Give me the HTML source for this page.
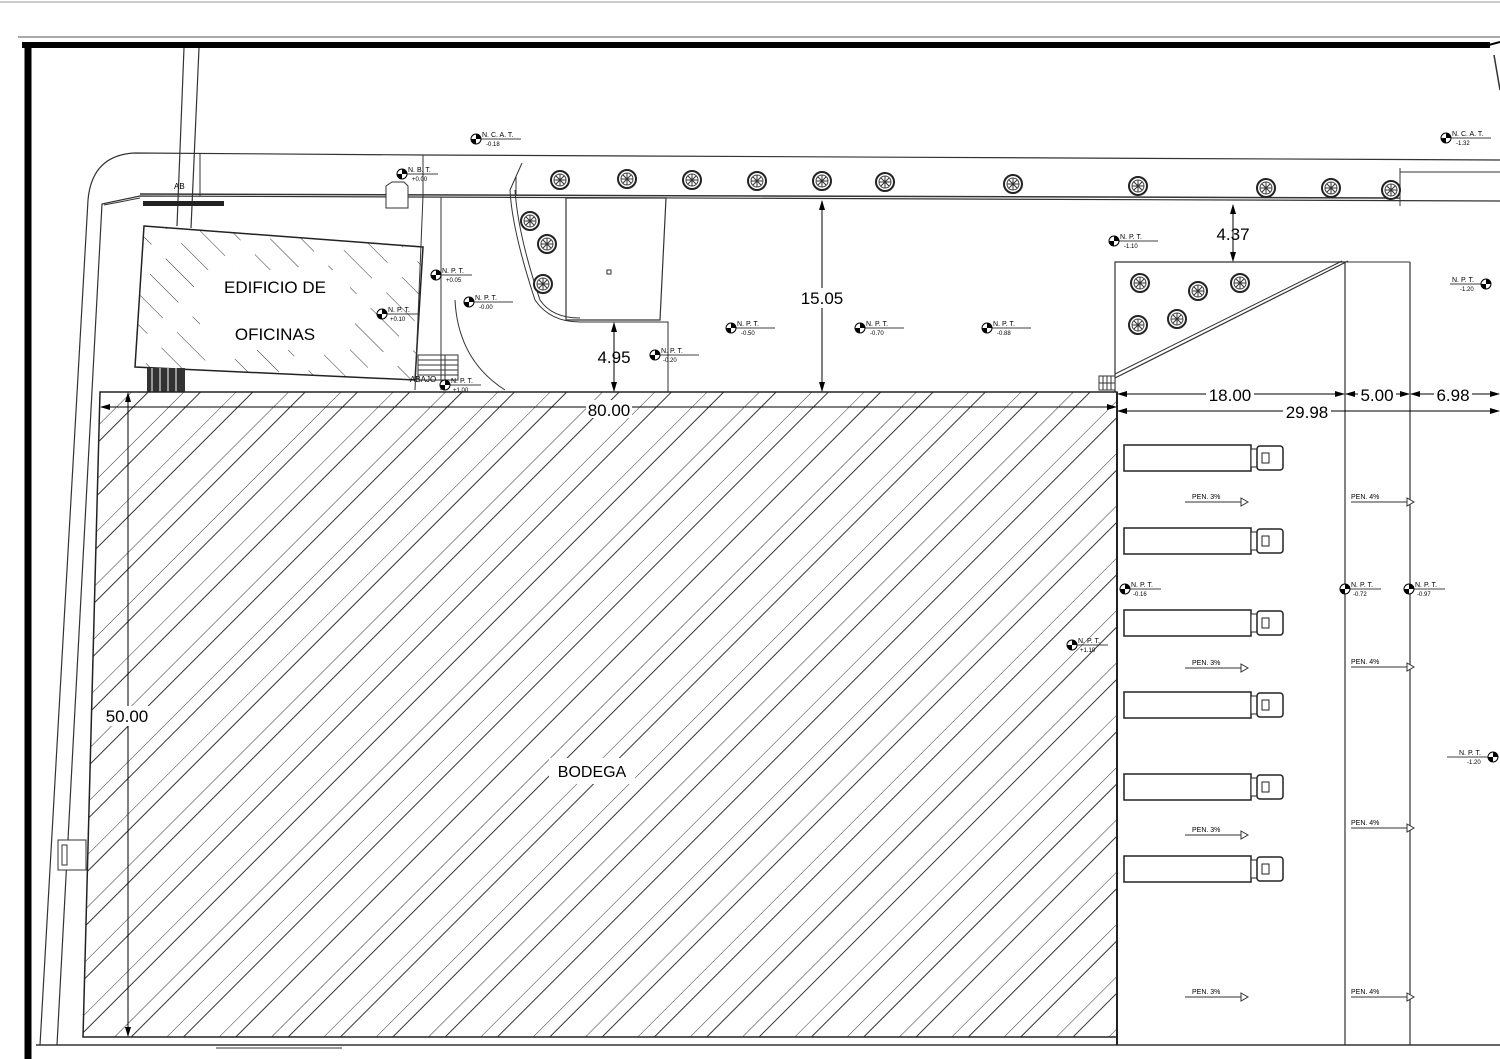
<!DOCTYPE html>
<html><head><meta charset="utf-8"><style>
html,body{margin:0;padding:0;background:#fff;}
svg{display:block;font-family:"Liberation Sans",sans-serif;}
</style></head><body>
<svg width="1500" height="1059" viewBox="0 0 1500 1059" xmlns="http://www.w3.org/2000/svg">
<defs>
<pattern id="hb" patternUnits="userSpaceOnUse" width="37" height="37" patternTransform="rotate(45)">
<line x1="0" y1="0" x2="0" y2="37" stroke="#333" stroke-width="1"/>
<line x1="12" y1="0" x2="12" y2="37" stroke="#333" stroke-width="1"/>
</pattern>
<pattern id="ho" patternUnits="userSpaceOnUse" width="22" height="60" patternTransform="rotate(-45)">
<line x1="0" y1="0" x2="0" y2="40" stroke="#333" stroke-width="1"/>
</pattern>
<g id="tree"><circle r="9" fill="#fff" stroke="#222" stroke-width="2"/><circle r="6" fill="none" stroke="#444" stroke-width="1"/>
<path d="M-6 0H6M0 -6V6M-4 -4L4 4M-4 4L4 -4" stroke="#333" stroke-width="1"/></g>
<g id="mk"><circle r="5" fill="#fff" stroke="#000" stroke-width="1"/><path d="M0 0V-5A5 5 0 0 1 5 0Z M0 0V5A5 5 0 0 1 -5 0Z" fill="#000"/></g>
<g id="trk"><rect x="0" y="-13" width="127" height="26" fill="#fff" stroke="#222" stroke-width="1.5"/><rect x="127" y="-9" width="6" height="18" fill="#fff" stroke="#222"/><rect x="133" y="-12" width="26" height="24" rx="3" fill="#fff" stroke="#222" stroke-width="1.5"/><rect x="138" y="-5" width="7" height="10" fill="none" stroke="#222"/></g>
<g id="pen"><line x1="0" y1="0" x2="56" y2="0" stroke="#333"/><path d="M56 -4L63 0L56 4Z" fill="#fff" stroke="#333"/></g>
<marker id="ar" markerWidth="10" markerHeight="6" refX="9" refY="3" orient="auto-start-reverse" markerUnits="userSpaceOnUse"><path d="M0 0L10 3L0 6Z" fill="#000"/></marker>
</defs>

<!-- frame -->
<line x1="18" y1="37" x2="1500" y2="37" stroke="#aaa" stroke-width="2"/>
<line x1="0" y1="2" x2="1500" y2="2" stroke="#ccc" stroke-width="2"/>
<line x1="22" y1="45" x2="1490" y2="45" stroke="#000" stroke-width="6"/>
<line x1="28" y1="42" x2="28" y2="1059" stroke="#000" stroke-width="7"/>
<line x1="1485" y1="46" x2="1500" y2="42" stroke="#000" stroke-width="2"/>
<line x1="1494" y1="55" x2="1500" y2="90" stroke="#333" stroke-width="1.5"/>
<line x1="36" y1="1045" x2="1500" y2="1045" stroke="#333" stroke-width="1.5"/>
<line x1="216" y1="1048" x2="342" y2="1048" stroke="#999" stroke-width="2"/>

<!-- property outlines -->
<path d="M40 1045 L88 200 Q92 155 135 153 L423 155 L1500 160" fill="none" stroke="#333" stroke-width="1.2"/>
<path d="M57 1045 L102 204 L140 196 L1500 201" fill="none" stroke="#333" stroke-width="1.2"/>
<path d="M104 205 L140 198" fill="none" stroke="#333" stroke-width="1"/>
<line x1="140" y1="194" x2="1400" y2="198" stroke="#333" stroke-width="1.5"/>
<line x1="1400" y1="168" x2="1400" y2="206" stroke="#333"/>
<line x1="1400" y1="172" x2="1500" y2="172" stroke="#333"/>
<line x1="200" y1="153" x2="200" y2="196" stroke="#333"/>
<line x1="423" y1="155" x2="423" y2="196" stroke="#333"/>
<!-- vertical lines at top -->
<line x1="184" y1="48" x2="177" y2="226" stroke="#333" stroke-width="1.2"/>
<line x1="199" y1="48" x2="191" y2="228" stroke="#333" stroke-width="1.2"/>
<text x="174" y="189" font-size="8">AB</text>
<rect x="143" y="201" width="81" height="5" fill="#222"/>
<path d="M386 198 V186 L392 182 H404 L408 186 V208 H386Z" fill="#fff" stroke="#333"/>

<!-- office -->
<polygon points="144,226 423,247 415,380 135,367" fill="url(#ho)" stroke="#222" stroke-width="1.5"/>
<rect x="200" y="270" width="150" height="80" fill="#fff"/>
<text x="275" y="293" font-size="17" text-anchor="middle">EDIFICIO DE</text>
<text x="275" y="340" font-size="17" text-anchor="middle">OFICINAS</text>
<rect x="147" y="368" width="38" height="24" fill="#333"/>
<g stroke="#fff" stroke-width="1"><line x1="152" y1="368" x2="152" y2="392"/><line x1="160" y1="368" x2="160" y2="392"/><line x1="168" y1="368" x2="168" y2="392"/><line x1="176" y1="368" x2="176" y2="392"/></g>
<!-- stairs -->
<g stroke="#333"><rect x="418" y="355" width="40" height="25" fill="#fff"/>
<line x1="418" y1="360" x2="458" y2="360"/><line x1="418" y1="365" x2="458" y2="365"/><line x1="418" y1="370" x2="458" y2="370"/><line x1="418" y1="375" x2="458" y2="375"/><line x1="445" y1="355" x2="445" y2="380"/></g>
<text x="410" y="382" font-size="8">ABAJO</text>

<!-- path/planting -->
<line x1="423" y1="196" x2="415" y2="390" stroke="#333"/>
<line x1="441" y1="197" x2="441" y2="390" stroke="#333"/>
<path d="M455 300 Q458 360 505 390" fill="none" stroke="#333"/>
<path d="M522 163 L510 190 Q512 230 535 300 Q550 322 580 322 L668 322 L668 392" fill="none" stroke="#333"/>
<path d="M515 190 Q518 235 540 300 Q552 318 580 318" fill="none" stroke="#333"/>
<line x1="516" y1="176" x2="516" y2="196" stroke="#333"/>
<polygon points="566,198 666,198 660,320 566,320" fill="none" stroke="#333" stroke-width="1.2"/>
<rect x="607" y="270" width="4" height="4" fill="none" stroke="#333"/>

<!-- trees -->
<use href="#tree" x="560" y="180"/><use href="#tree" x="627" y="179"/><use href="#tree" x="692" y="180"/><use href="#tree" x="757" y="181"/><use href="#tree" x="822" y="181"/><use href="#tree" x="885" y="182"/><use href="#tree" x="1013" y="184"/><use href="#tree" x="1138" y="186"/><use href="#tree" x="1266" y="188"/><use href="#tree" x="1331" y="188"/><use href="#tree" x="1391" y="190"/>
<use href="#tree" x="530" y="221"/><use href="#tree" x="547" y="244"/><use href="#tree" x="543" y="284"/>
<use href="#tree" x="1140" y="283"/><use href="#tree" x="1198" y="291"/><use href="#tree" x="1240" y="283"/><use href="#tree" x="1138" y="325"/><use href="#tree" x="1177" y="319"/>

<!-- right zone -->
<path d="M1115 392 V262 H1345 V1045" fill="none" stroke="#333" stroke-width="1.2"/>
<line x1="1410" y1="262" x2="1410" y2="1045" stroke="#333" stroke-width="1.2"/>
<line x1="1345" y1="262" x2="1410" y2="262" stroke="#333"/>
<line x1="1348" y1="261" x2="1115" y2="378" stroke="#333" stroke-width="1.2"/>
<line x1="1342" y1="261" x2="1115" y2="374" stroke="#333" stroke-width="1"/>
<rect x="1099" y="376" width="16" height="14" fill="#fff" stroke="#333"/>
<path d="M1103 376V390M1107 376V390M1111 376V390M1099 383H1115" stroke="#333"/>

<!-- bodega -->
<polygon points="100,392 1117,392 1117,1037 83,1037" fill="url(#hb)" stroke="#222" stroke-width="1.5"/>
<line x1="1117" y1="392" x2="1117" y2="1045" stroke="#222" stroke-width="2"/>
<rect x="549" y="758" width="86" height="26" fill="#fff"/>
<text x="592" y="777" font-size="16" text-anchor="middle">BODEGA</text>
<rect x="58" y="840" width="28" height="30" fill="#fff" stroke="#333"/>
<rect x="62" y="845" width="5" height="20" fill="none" stroke="#333"/>

<!-- dimensions -->
<g stroke="#000" stroke-width="1" fill="none">
<line x1="101" y1="407" x2="1116" y2="407" marker-start="url(#ar)" marker-end="url(#ar)"/>
<line x1="128" y1="393" x2="128" y2="1036" marker-start="url(#ar)" marker-end="url(#ar)"/>
<line x1="822" y1="201" x2="822" y2="391" marker-start="url(#ar)" marker-end="url(#ar)"/>
<line x1="614" y1="323" x2="614" y2="391" marker-start="url(#ar)" marker-end="url(#ar)"/>
<line x1="1233" y1="205" x2="1233" y2="261" marker-start="url(#ar)" marker-end="url(#ar)"/>
<line x1="1118" y1="394" x2="1344" y2="394" marker-start="url(#ar)" marker-end="url(#ar)"/>
<line x1="1346" y1="394" x2="1409" y2="394" marker-start="url(#ar)" marker-end="url(#ar)"/>
<line x1="1411" y1="394" x2="1499" y2="394" marker-start="url(#ar)" marker-end="url(#ar)"/>
<line x1="1118" y1="411" x2="1499" y2="411" marker-start="url(#ar)" marker-end="url(#ar)"/>
</g>
<g font-size="17" text-anchor="middle">
<rect x="586" y="400" width="46" height="18" fill="#fff"/><text x="609" y="416">80.00</text>
<rect x="105" y="706" width="46" height="20" fill="#fff"/><text x="127" y="722">50.00</text>
<rect x="799" y="288" width="46" height="20" fill="#fff"/><text x="822" y="304">15.05</text>
<text x="614" y="363">4.95</text>
<text x="1233" y="240">4.37</text>
<rect x="1206" y="386" width="48" height="16" fill="#fff"/><text x="1230" y="401">18.00</text>
<rect x="1358" y="386" width="38" height="16" fill="#fff"/><text x="1377" y="401">5.00</text>
<rect x="1434" y="386" width="38" height="16" fill="#fff"/><text x="1453" y="401">6.98</text>
<rect x="1283" y="403" width="48" height="16" fill="#fff"/><text x="1307" y="418">29.98</text>
</g>

<!-- trucks -->
<use href="#trk" x="1124" y="458"/><use href="#trk" x="1124" y="541"/><use href="#trk" x="1124" y="623"/><use href="#trk" x="1124" y="705"/><use href="#trk" x="1124" y="787"/><use href="#trk" x="1124" y="869"/>
<g font-size="7">
<use href="#pen" x="1185" y="502"/><text x="1192" y="499">PEN. 3%</text>
<use href="#pen" x="1185" y="668"/><text x="1192" y="665">PEN. 3%</text>
<use href="#pen" x="1185" y="835"/><text x="1192" y="832">PEN. 3%</text>
<use href="#pen" x="1185" y="997"/><text x="1192" y="994">PEN. 3%</text>
<use href="#pen" x="1351" y="502"/><text x="1351" y="499">PEN. 4%</text>
<use href="#pen" x="1351" y="667"/><text x="1351" y="664">PEN. 4%</text>
<use href="#pen" x="1351" y="828"/><text x="1351" y="825">PEN. 4%</text>
<use href="#pen" x="1351" y="997"/><text x="1351" y="994">PEN. 4%</text>
</g>

<!-- level markers -->
<g font-size="7" fill="#000">
<g transform="translate(476,139)"><use href="#mk"/><text x="6" y="-2">N. C. A. T.</text><line x1="5" y1="0" x2="45" y2="0" stroke="#000" stroke-width=".7"/><text x="10" y="7" font-size="6">-0.18</text></g>
<g transform="translate(402,174)"><use href="#mk"/><text x="6" y="-2">N. B. T.</text><line x1="5" y1="0" x2="36" y2="0" stroke="#000" stroke-width=".7"/><text x="10" y="7" font-size="6">+0.00</text></g>
<g transform="translate(436,275)"><use href="#mk"/><text x="6" y="-2">N. P. T.</text><line x1="5" y1="0" x2="36" y2="0" stroke="#000" stroke-width=".7"/><text x="10" y="7" font-size="6">+0.05</text></g>
<g transform="translate(382,314)"><use href="#mk"/><text x="6" y="-2">N. P. T.</text><line x1="5" y1="0" x2="36" y2="0" stroke="#000" stroke-width=".7"/><text x="8" y="7" font-size="6">+0.10</text></g>
<g transform="translate(469,302)"><use href="#mk"/><text x="6" y="-2">N. P. T.</text><line x1="5" y1="0" x2="44" y2="0" stroke="#000" stroke-width=".7"/><text x="10" y="7" font-size="6">-0.00</text></g>
<g transform="translate(655,355)"><use href="#mk"/><text x="6" y="-2">N. P. T.</text><line x1="5" y1="0" x2="44" y2="0" stroke="#000" stroke-width=".7"/><text x="8" y="7" font-size="6">-0.20</text></g>
<g transform="translate(445,385)"><use href="#mk"/><text x="6" y="-2">N. P. T.</text><line x1="5" y1="0" x2="36" y2="0" stroke="#000" stroke-width=".7"/><text x="8" y="7" font-size="6">+1.00</text></g>
<g transform="translate(731,328)"><use href="#mk"/><text x="6" y="-2">N. P. T.</text><line x1="5" y1="0" x2="44" y2="0" stroke="#000" stroke-width=".7"/><text x="10" y="7" font-size="6">-0.50</text></g>
<g transform="translate(860,328)"><use href="#mk"/><text x="6" y="-2">N. P. T.</text><line x1="5" y1="0" x2="44" y2="0" stroke="#000" stroke-width=".7"/><text x="10" y="7" font-size="6">-0.70</text></g>
<g transform="translate(987,328)"><use href="#mk"/><text x="6" y="-2">N. P. T.</text><line x1="5" y1="0" x2="44" y2="0" stroke="#000" stroke-width=".7"/><text x="10" y="7" font-size="6">-0.88</text></g>
<g transform="translate(1114,241)"><use href="#mk"/><text x="6" y="-2">N. P. T.</text><line x1="5" y1="0" x2="44" y2="0" stroke="#000" stroke-width=".7"/><text x="10" y="7" font-size="6">-1.10</text></g>
<g transform="translate(1446,138)"><use href="#mk"/><text x="6" y="-2">N. C. A. T.</text><line x1="5" y1="0" x2="45" y2="0" stroke="#000" stroke-width=".7"/><text x="10" y="7" font-size="6">-1.32</text></g>
<g transform="translate(1486,284)"><use href="#mk"/><text x="-34" y="-2">N. P. T.</text><line x1="-36" y1="0" x2="-5" y2="0" stroke="#000" stroke-width=".7"/><text x="-26" y="7" font-size="6">-1.20</text></g>
<g transform="translate(1493,757)"><use href="#mk"/><text x="-34" y="-2">N. P. T.</text><line x1="-46" y1="0" x2="-5" y2="0" stroke="#000" stroke-width=".7"/><text x="-26" y="7" font-size="6">-1.20</text></g>
<g transform="translate(1125,589)"><use href="#mk"/><text x="6" y="-2">N. P. T.</text><line x1="5" y1="0" x2="36" y2="0" stroke="#000" stroke-width=".7"/><text x="8" y="7" font-size="6">-0.16</text></g>
<g transform="translate(1345,589)"><use href="#mk"/><text x="6" y="-2">N. P. T.</text><line x1="5" y1="0" x2="36" y2="0" stroke="#000" stroke-width=".7"/><text x="8" y="7" font-size="6">-0.72</text></g>
<g transform="translate(1409,589)"><use href="#mk"/><text x="6" y="-2">N. P. T.</text><line x1="5" y1="0" x2="36" y2="0" stroke="#000" stroke-width=".7"/><text x="8" y="7" font-size="6">-0.97</text></g>
<g transform="translate(1072,645)"><use href="#mk"/><text x="6" y="-2">N. P. T.</text><line x1="5" y1="0" x2="36" y2="0" stroke="#000" stroke-width=".7"/><text x="8" y="7" font-size="6">+1.10</text></g>
</g>
</svg>
</body></html>
